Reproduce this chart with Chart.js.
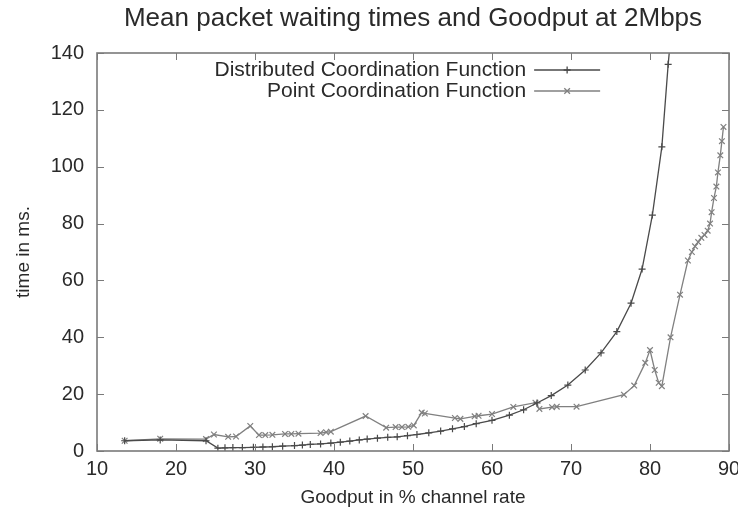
<!DOCTYPE html>
<html><head><meta charset="utf-8">
<script src="https://cdn.jsdelivr.net/npm/chart.js@4.4.0/dist/chart.umd.min.js"></script>
<style>html,body{margin:0;padding:0;background:#fff}#wrap{width:738px;height:515px}</style>
</head><body><div id="wrap"><canvas id="c" width="738" height="515"></canvas></div>
<script>
const chartTitle = 'Mean packet waiting times and Goodput at 2Mbps';
const xAxisTitle = 'Goodput in % channel rate';
const yAxisTitle = 'time in ms.';
const seriesNames = ['Distributed Coordination Function', 'Point Coordination Function'];
const xTickValues = [10, 20, 30, 40, 50, 60, 70, 80, 90];
const yTickValues = [0, 20, 40, 60, 80, 100, 120, 140];

const dcfX = [13.5, 18, 23.8, 25.3, 26.2, 27.2, 28.4, 29.8, 31, 32.2, 33.5, 35, 36, 37, 38.3, 39.6, 40.8, 42, 43.2, 44.2, 45.5, 46.8, 48, 49.3, 50.5, 52, 53.5, 55, 56.5, 58, 60, 62.2, 64, 65.7, 67.5, 69.6, 71.8, 73.8, 75.8, 77.6, 79, 80.3, 81.5, 82.3, 82.7];
const dcfY = [3.6, 3.9, 3.6, 1.0, 1.1, 1.2, 1.2, 1.3, 1.4, 1.5, 1.7, 1.9, 2.1, 2.3, 2.5, 2.8, 3.1, 3.5, 3.9, 4.2, 4.5, 4.8, 5.0, 5.4, 5.8, 6.4, 7.0, 7.8, 8.6, 9.6, 10.8, 12.6, 14.5, 16.9, 19.5, 23.2, 28.5, 34.5, 42, 52, 64, 83, 107, 136, 148];

const pcfX = [13.5, 18, 23.8, 24.8, 26.6, 27.6, 29.4, 30.5, 31.3, 32.2, 33.8, 34.6, 35.5, 38.3, 39, 39.6, 44, 46.6, 47.8, 48.6, 49.4, 50.1, 51.1, 51.5, 55.3, 56, 57.8, 58.3, 60, 62.7, 65.5, 66, 67.6, 68.2, 70.7, 76.7, 78, 79.4, 80, 80.6, 81.1, 81.5, 82.6, 83.8, 84.8, 85.3, 85.7, 86.1, 86.5, 86.9, 87.3, 87.6, 87.8, 88.1, 88.4, 88.6, 88.9, 89.1, 89.3];
const pcfY = [3.6, 4.3, 4.2, 5.8, 5.0, 5.1, 8.8, 5.6, 5.6, 5.7, 6.0, 6.0, 6.1, 6.3, 6.6, 6.8, 12.3, 8.2, 8.4, 8.4, 8.5, 9.0, 13.5, 13.2, 11.6, 11.3, 12.2, 12.4, 13.0, 15.5, 17.0, 14.8, 15.4, 15.6, 15.6, 19.8, 23.0, 31.0, 35.5, 28.5, 24.0, 22.8, 40, 55, 67, 70, 72, 73.5, 75, 76, 77.5, 80, 84, 89, 93, 98, 104, 109, 114];

const toPoints = (xs, ys) => xs.map((x, i) => ({x: x, y: ys[i]}));
const FONT = "'Liberation Sans', Arial, sans-serif";
const TXT = '#2a2a2a';

const styles = [
  {color: '#4a4a4a', pointStyle: 'cross', radius: 3.5},
  {color: '#808080', pointStyle: 'crossRot', radius: 4}
];

const decor = {
  id: 'decor',
  afterDraw(chart) {
    const ctx = chart.ctx;
    const a = chart.chartArea;
    const xs = chart.scales.x, ys = chart.scales.y;
    ctx.save();
    ctx.strokeStyle = '#7a7a7a';
    ctx.lineWidth = 1.6;
    ctx.strokeRect(a.left, a.top, a.right - a.left, a.bottom - a.top);
    ctx.lineWidth = 1;
    ctx.beginPath();
    const tl = 7;
    xTickValues.forEach(v => {
      const px = Math.round(xs.getPixelForValue(v)) + 0.5;
      ctx.moveTo(px, a.bottom); ctx.lineTo(px, a.bottom - tl);
      ctx.moveTo(px, a.top); ctx.lineTo(px, a.top + tl);
    });
    yTickValues.forEach(v => {
      const py = Math.round(ys.getPixelForValue(v)) + 0.5;
      ctx.moveTo(a.left, py); ctx.lineTo(a.left + tl, py);
      ctx.moveTo(a.right, py); ctx.lineTo(a.right - tl, py);
    });
    ctx.stroke();
    ctx.fillStyle = TXT;
    ctx.font = '26px ' + FONT;
    ctx.textAlign = 'center';
    ctx.textBaseline = 'middle';
    ctx.fillText(chartTitle, (a.left + a.right) / 2, 19);
    ctx.font = '21px ' + FONT;
    ctx.textAlign = 'right';
    const textRight = a.left + (a.right - a.left) * 0.679;
    const y0 = a.top + 17, dy = 21;
    chart.data.datasets.forEach((ds, i) => {
      const y = y0 + i * dy;
      ctx.fillStyle = TXT;
      ctx.fillText(ds.label, textRight, y);
      const x1 = textRight + 8, x2 = textRight + 74;
      ctx.strokeStyle = ds.borderColor;
      ctx.lineWidth = 1.3;
      ctx.beginPath(); ctx.moveTo(x1, y); ctx.lineTo(x2, y); ctx.stroke();
      Chart.helpers.drawPoint(ctx, {pointStyle: ds.pointStyle, radius: ds.pointRadius, rotation: 0, borderWidth: 1.2}, (x1 + x2) / 2, y);
    });
    ctx.restore();
  }
};

new Chart(document.getElementById('c'), {
  type: 'line',
  data: {
    datasets: [
      {label: seriesNames[0], data: toPoints(dcfX, dcfY), borderColor: styles[0].color, backgroundColor: 'transparent',
       pointBorderColor: styles[0].color, pointStyle: styles[0].pointStyle, pointRadius: styles[0].radius, pointBorderWidth: 1.2,
       borderWidth: 1.3, tension: 0, fill: false},
      {label: seriesNames[1], data: toPoints(pcfX, pcfY), borderColor: styles[1].color, backgroundColor: 'transparent',
       pointBorderColor: styles[1].color, pointStyle: styles[1].pointStyle, pointRadius: styles[1].radius, pointBorderWidth: 1.2,
       borderWidth: 1.3, tension: 0, fill: false}
    ]
  },
  options: {
    responsive: false,
    animation: false,
    devicePixelRatio: 1,
    layout: {padding: {top: 53, right: 9, left: 0, bottom: 0}},
    plugins: {legend: {display: false}, title: {display: false}, tooltip: {enabled: false}},
    scales: {
      x: {
        type: 'linear', min: 10, max: 90,
        afterBuildTicks: s => { s.ticks = xTickValues.map(v => ({value: v})); },
        afterFit: s => { s.height = 64; s.paddingLeft = 0; s.paddingRight = 0; },
        grid: {display: false, drawTicks: false},
        border: {display: false},
        ticks: {color: TXT, font: {family: FONT, size: 20}, padding: 6, maxRotation: 0},
        title: {display: true, text: xAxisTitle, color: TXT, font: {family: FONT, size: 19}, padding: {top: 0, bottom: 6}}
      },
      y: {
        type: 'linear', min: 0, max: 140,
        afterBuildTicks: s => { s.ticks = yTickValues.map(v => ({value: v})); },
        afterFit: s => { s.width = 97; s.paddingTop = 0; s.paddingBottom = 0; },
        grid: {display: false, drawTicks: false},
        border: {display: false},
        ticks: {color: TXT, font: {family: FONT, size: 20}, padding: 13},
        title: {display: true, text: yAxisTitle, color: TXT, font: {family: FONT, size: 19}, padding: {top: 12, bottom: 0}}
      }
    }
  },
  plugins: [decor]
});
</script>
</body></html>
